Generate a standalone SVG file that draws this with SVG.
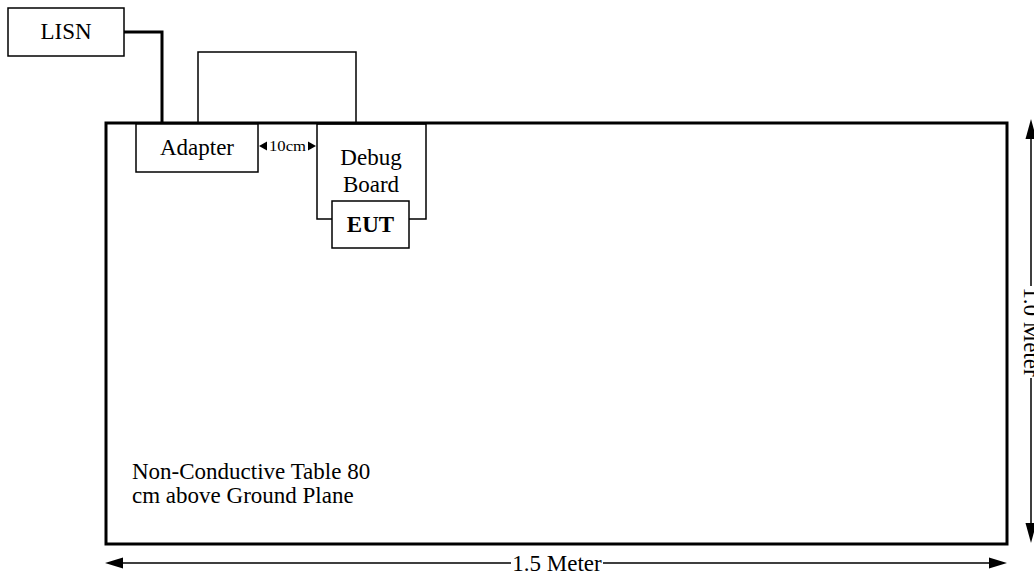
<svg xmlns="http://www.w3.org/2000/svg" width="1034" height="578" viewBox="0 0 1034 578">
  <style>
    text { font-family: 'Liberation Serif', 'Times New Roman', 'DejaVu Serif', serif; fill: #000; }
    .lbl { font-size: 23px; text-anchor: middle; }
    .box { fill: #fff; stroke: #000; stroke-width: 1.5; }
    .thin { fill: none; stroke: #000; stroke-width: 1.5; }
    .thick { fill: none; stroke: #000; stroke-width: 3; }
    .dim { fill: none; stroke: #000; stroke-width: 1.5; }
    .head { fill: #000; stroke: none; }
  </style>
  <rect width="1034" height="578" fill="#fff"/>
  <g id="connectors">
    <path id="lisn-cable" class="thick" d="M124 32 H162 V123"/>
    <path id="loop-cable" class="thin" d="M198 123 V52 H356 V123"/>
  </g>
  <g id="table">
    <rect x="106" y="123" width="901" height="421" fill="#fff" stroke="#000" stroke-width="3"/>
    <text x="132" y="479" font-family="Liberation Serif, serif" font-size="23">Non-Conductive Table 80</text>
    <text x="132" y="503" font-family="Liberation Serif, serif" font-size="23">cm above Ground Plane</text>
  </g>
  <g id="lisn">
    <rect class="box" x="8" y="8" width="116" height="48"/>
    <text class="lbl" x="66" y="39" font-family="Liberation Serif, serif">LISN</text>
  </g>
  <g id="adapter">
    <rect class="box" x="136" y="124" width="122" height="48"/>
    <text class="lbl" x="197" y="155" font-family="Liberation Serif, serif">Adapter</text>
  </g>
  <g id="debug-board">
    <path class="thin" d="M332 219 H317 V124 H426 V219 H409"/>
    <text class="lbl" x="371" y="165" font-family="Liberation Serif, serif">Debug</text>
    <text class="lbl" x="371" y="192" font-family="Liberation Serif, serif">Board</text>
  </g>
  <g id="eut">
    <rect class="box" x="332" y="201" width="77" height="47"/>
    <text class="lbl" x="370.5" y="232" font-weight="bold" font-family="Liberation Serif, serif">EUT</text>
  </g>
  <g id="dim-10cm">
    <polygon class="head" points="259,146 267,141.5 267,150.5"/>
    <polygon class="head" points="316,146 308,141.5 308,150.5"/>
    <text x="287.5" y="151" font-size="14" text-anchor="middle" textLength="37" lengthAdjust="spacingAndGlyphs" font-family="Liberation Serif, serif">10cm</text>
  </g>
  <g id="dim-width">
    <path class="dim" d="M120 563 H511 M603 563 H990"/>
    <polygon class="head" points="105,563 123,557.5 123,568.5"/>
    <polygon class="head" points="1007,563 989,557.5 989,568.5"/>
    <text class="lbl" x="557" y="570.5" font-family="Liberation Serif, serif">1.5 Meter</text>
  </g>
  <g id="dim-height">
    <path class="dim" d="M1031 135 V286 M1031 378 V527"/>
    <polygon class="head" points="1031,119 1025.5,139 1036.5,139"/>
    <polygon class="head" points="1031,543 1025.5,523 1036.5,523"/>
    <text class="lbl" transform="translate(1024 332) rotate(90)" x="0" y="0" font-family="Liberation Serif, serif">1.0 Meter</text>
  </g>
</svg>
